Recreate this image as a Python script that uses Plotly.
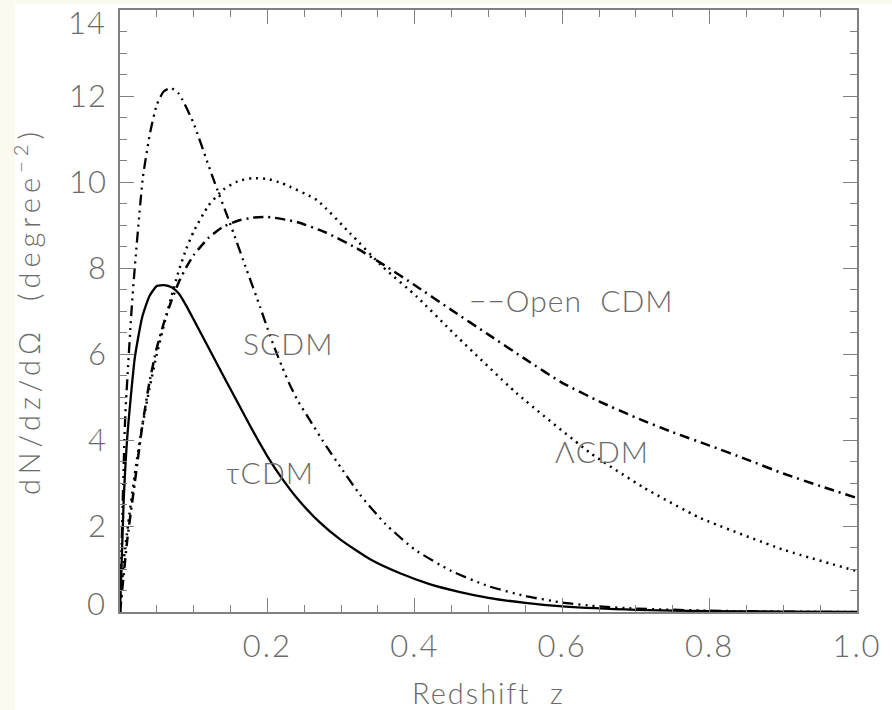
import plotly.graph_objects as go

# ---- data ----
tau_z = [0.0, 0.005, 0.01, 0.02, 0.03, 0.04, 0.05, 0.06, 0.07, 0.08, 0.09, 0.1, 0.12, 0.14, 0.16,
         0.18, 0.2, 0.22, 0.24, 0.27, 0.3, 0.34, 0.38, 0.42, 0.46, 0.5, 0.55, 0.6, 0.7, 0.8, 0.9, 1.0]
tau_n = [0.0, 2.6, 4.1, 5.9, 6.85, 7.35, 7.58, 7.6, 7.55, 7.4, 7.12, 6.8, 6.15, 5.5, 4.86,
         4.22, 3.62, 3.1, 2.65, 2.1, 1.67, 1.22, 0.9, 0.65, 0.47, 0.33, 0.21, 0.13, 0.05, 0.02, 0.01, 0.0]

scdm_z = [0.0, 0.007, 0.016, 0.02, 0.031, 0.041, 0.05, 0.059, 0.069, 0.08, 0.099, 0.126, 0.149,
          0.172, 0.19, 0.2, 0.21, 0.22, 0.23, 0.24, 0.258, 0.28, 0.3, 0.326, 0.36, 0.4, 0.45,
          0.5, 0.55, 0.6, 0.65, 0.7, 0.8, 0.9, 1.0]
scdm_n = [0.0, 4.5, 7.1, 8.0, 10.1, 11.16, 11.8, 12.1, 12.19, 12.05, 11.4, 10.1, 9.05,
          7.95, 7.1, 6.6, 6.13, 5.7, 5.3, 4.95, 4.45, 3.85, 3.35, 2.72, 2.05, 1.45, 0.95,
          0.6, 0.37, 0.22, 0.13, 0.08, 0.03, 0.01, 0.0]

lcdm_z = [0.0, 0.005, 0.01, 0.02, 0.03, 0.04, 0.05, 0.06, 0.07, 0.08, 0.09, 0.1, 0.12, 0.14,
          0.16, 0.18, 0.2, 0.22, 0.267, 0.312, 0.357, 0.403, 0.448, 0.538, 0.638, 0.71, 0.787,
          0.9, 1.0]
lcdm_n = [0.0, 1.2, 1.9, 3.2, 4.3, 5.2, 6.0, 6.7, 7.35, 7.95, 8.45, 8.85, 9.45, 9.82,
          10.02, 10.09, 10.07, 9.97, 9.58, 8.81, 8.02, 7.33, 6.56, 5.09, 3.7, 2.9, 2.19,
          1.45, 0.95]

ocdm_z = [0.0, 0.01, 0.02, 0.03, 0.04, 0.05, 0.06, 0.07, 0.08, 0.09, 0.1, 0.12, 0.14, 0.16,
          0.18, 0.2, 0.24, 0.28, 0.32, 0.36, 0.4, 0.45, 0.5, 0.55, 0.6, 0.65, 0.7, 0.75,
          0.8, 0.85, 0.9, 0.95, 1.0]
ocdm_n = [0.0, 1.7, 3.0, 4.3, 5.35, 6.15, 6.75, 7.25, 7.68, 8.02, 8.3, 8.7, 8.96, 9.1,
          9.17, 9.19, 9.07, 8.82, 8.47, 8.05, 7.6, 7.02, 6.45, 5.88, 5.33, 4.9, 4.52, 4.18,
          3.87, 3.55, 3.22, 2.93, 2.65]

x_tickvals = [0.2, 0.4, 0.6, 0.8, 1.0]
x_ticktext = ["0.2", "0.4", "0.6", "0.8", "1.0"]
y_tickvals = [2, 4, 6, 8, 10, 12]
y_ticktext = ["2", "4", "6", "8", "10", "12"]
# end labels of the y axis (drawn inside the frame in the reference)
y_end_text = ["0", "14"]
y_end_pos = [0.21, 13.73]

labels = ["SCDM", "\u03c4CDM", "\u039bCDM", "\u2212\u2212Open\u00a0\u00a0CDM"]
label_x = [0.228, 0.2035, 0.654, 0.612]
label_y = [6.26, 3.26, 3.74, 7.26]

# ---- figure ----
TXT = "#6a6a6a"
AX = "#808080"
FONT = "Lato, Liberation Sans, Arial, sans-serif"

def ls(t, px):
    return '<span style="letter-spacing:%dpx">%s</span>' % (px, t)

fig = go.Figure()
fig.add_trace(go.Scatter(x=tau_z, y=tau_n, mode="lines",
                         line=dict(color="black", width=2.3, shape="spline", smoothing=0.5),
                         showlegend=False))
fig.add_trace(go.Scatter(x=scdm_z, y=scdm_n, mode="lines",
                         line=dict(color="black", width=2.3, shape="spline", smoothing=0.5,
                                   dash="11px,5px,2px,5px,2px,5px,2px,5px"),
                         showlegend=False))
fig.add_trace(go.Scatter(x=lcdm_z, y=lcdm_n, mode="lines",
                         line=dict(color="black", width=2.5, shape="spline", smoothing=0.5,
                                   dash="2px,5px"),
                         showlegend=False))
fig.add_trace(go.Scatter(x=ocdm_z, y=ocdm_n, mode="lines",
                         line=dict(color="black", width=2.5, shape="spline", smoothing=0.5,
                                   dash="10px,5px,2px,5px"),
                         showlegend=False))

for t, lx, ly in zip(labels, label_x, label_y):
    fig.add_annotation(x=lx, y=ly, xref="x", yref="y", text=ls(t, 1), showarrow=False,
                       font=dict(family=FONT, size=30, color=TXT, weight=300),
                       xanchor="center", yanchor="middle")

for t, ly in zip(y_end_text, y_end_pos):
    fig.add_annotation(x=-12 / 737, y=ly, xref="paper", yref="y", text=ls(t, 1),
                       showarrow=False, xanchor="right", yanchor="middle",
                       font=dict(family=FONT, size=31, color=TXT, weight=300))

axis_common = dict(showline=True, linecolor=AX, linewidth=1.6, mirror="allticks",
                   ticks="inside", ticklen=14, tickwidth=1.4, tickcolor=AX,
                   showgrid=False, zeroline=False, automargin=False,
                   ticklabeloverflow="allow",
                   tickfont=dict(family=FONT, size=31, color=TXT, weight=300))

fig.update_xaxes(range=[0, 1], tickmode="array", tickvals=x_tickvals,
                 ticktext=[ls(t, 2) for t in x_ticktext], ticklabelstandoff=6,
                 minor=dict(ticks="inside", ticklen=7, tickwidth=1.4, tickcolor=AX,
                            tickmode="linear", dtick=0.05, tick0=0, showgrid=False),
                 title=dict(text=ls("Redshift\u00a0\u00a0z", 2),
                            font=dict(family=FONT, size=29, color=TXT, weight=300), standoff=27),
                 **axis_common)
fig.update_yaxes(range=[0, 14], tickmode="array", tickvals=y_tickvals,
                 ticktext=[ls(t, 1) for t in y_ticktext],
                 ticklabelstandoff=5,
                 minor=dict(ticks="inside", ticklen=7, tickwidth=1.4, tickcolor=AX,
                            tickmode="linear", dtick=0.5, tick0=0, showgrid=False),
                 title=dict(text=ls("dN/dz/d\u03a9\u00a0\u00a0(degree<sup>\u22122</sup>)", 5),
                            font=dict(family=FONT, size=29, color=TXT, weight=300), standoff=20),
                 **axis_common)

fig.update_layout(
    width=892, height=710,
    margin=dict(l=120, r=35, t=10, b=98),
    paper_bgcolor="#fafaef", plot_bgcolor="white",
    shapes=[dict(type="rect", xref="paper", yref="paper",
                 x0=-105 / 737, x1=772 / 737, y0=-98 / 602, y1=608 / 602,
                 fillcolor="white", line=dict(width=0), layer="below")],
)

# remove the default 8px page margin so the figure fills the window exactly
fig.write_html("out.html", config={"displayModeBar": False},
               post_script="document.body.style.margin='0px';")
